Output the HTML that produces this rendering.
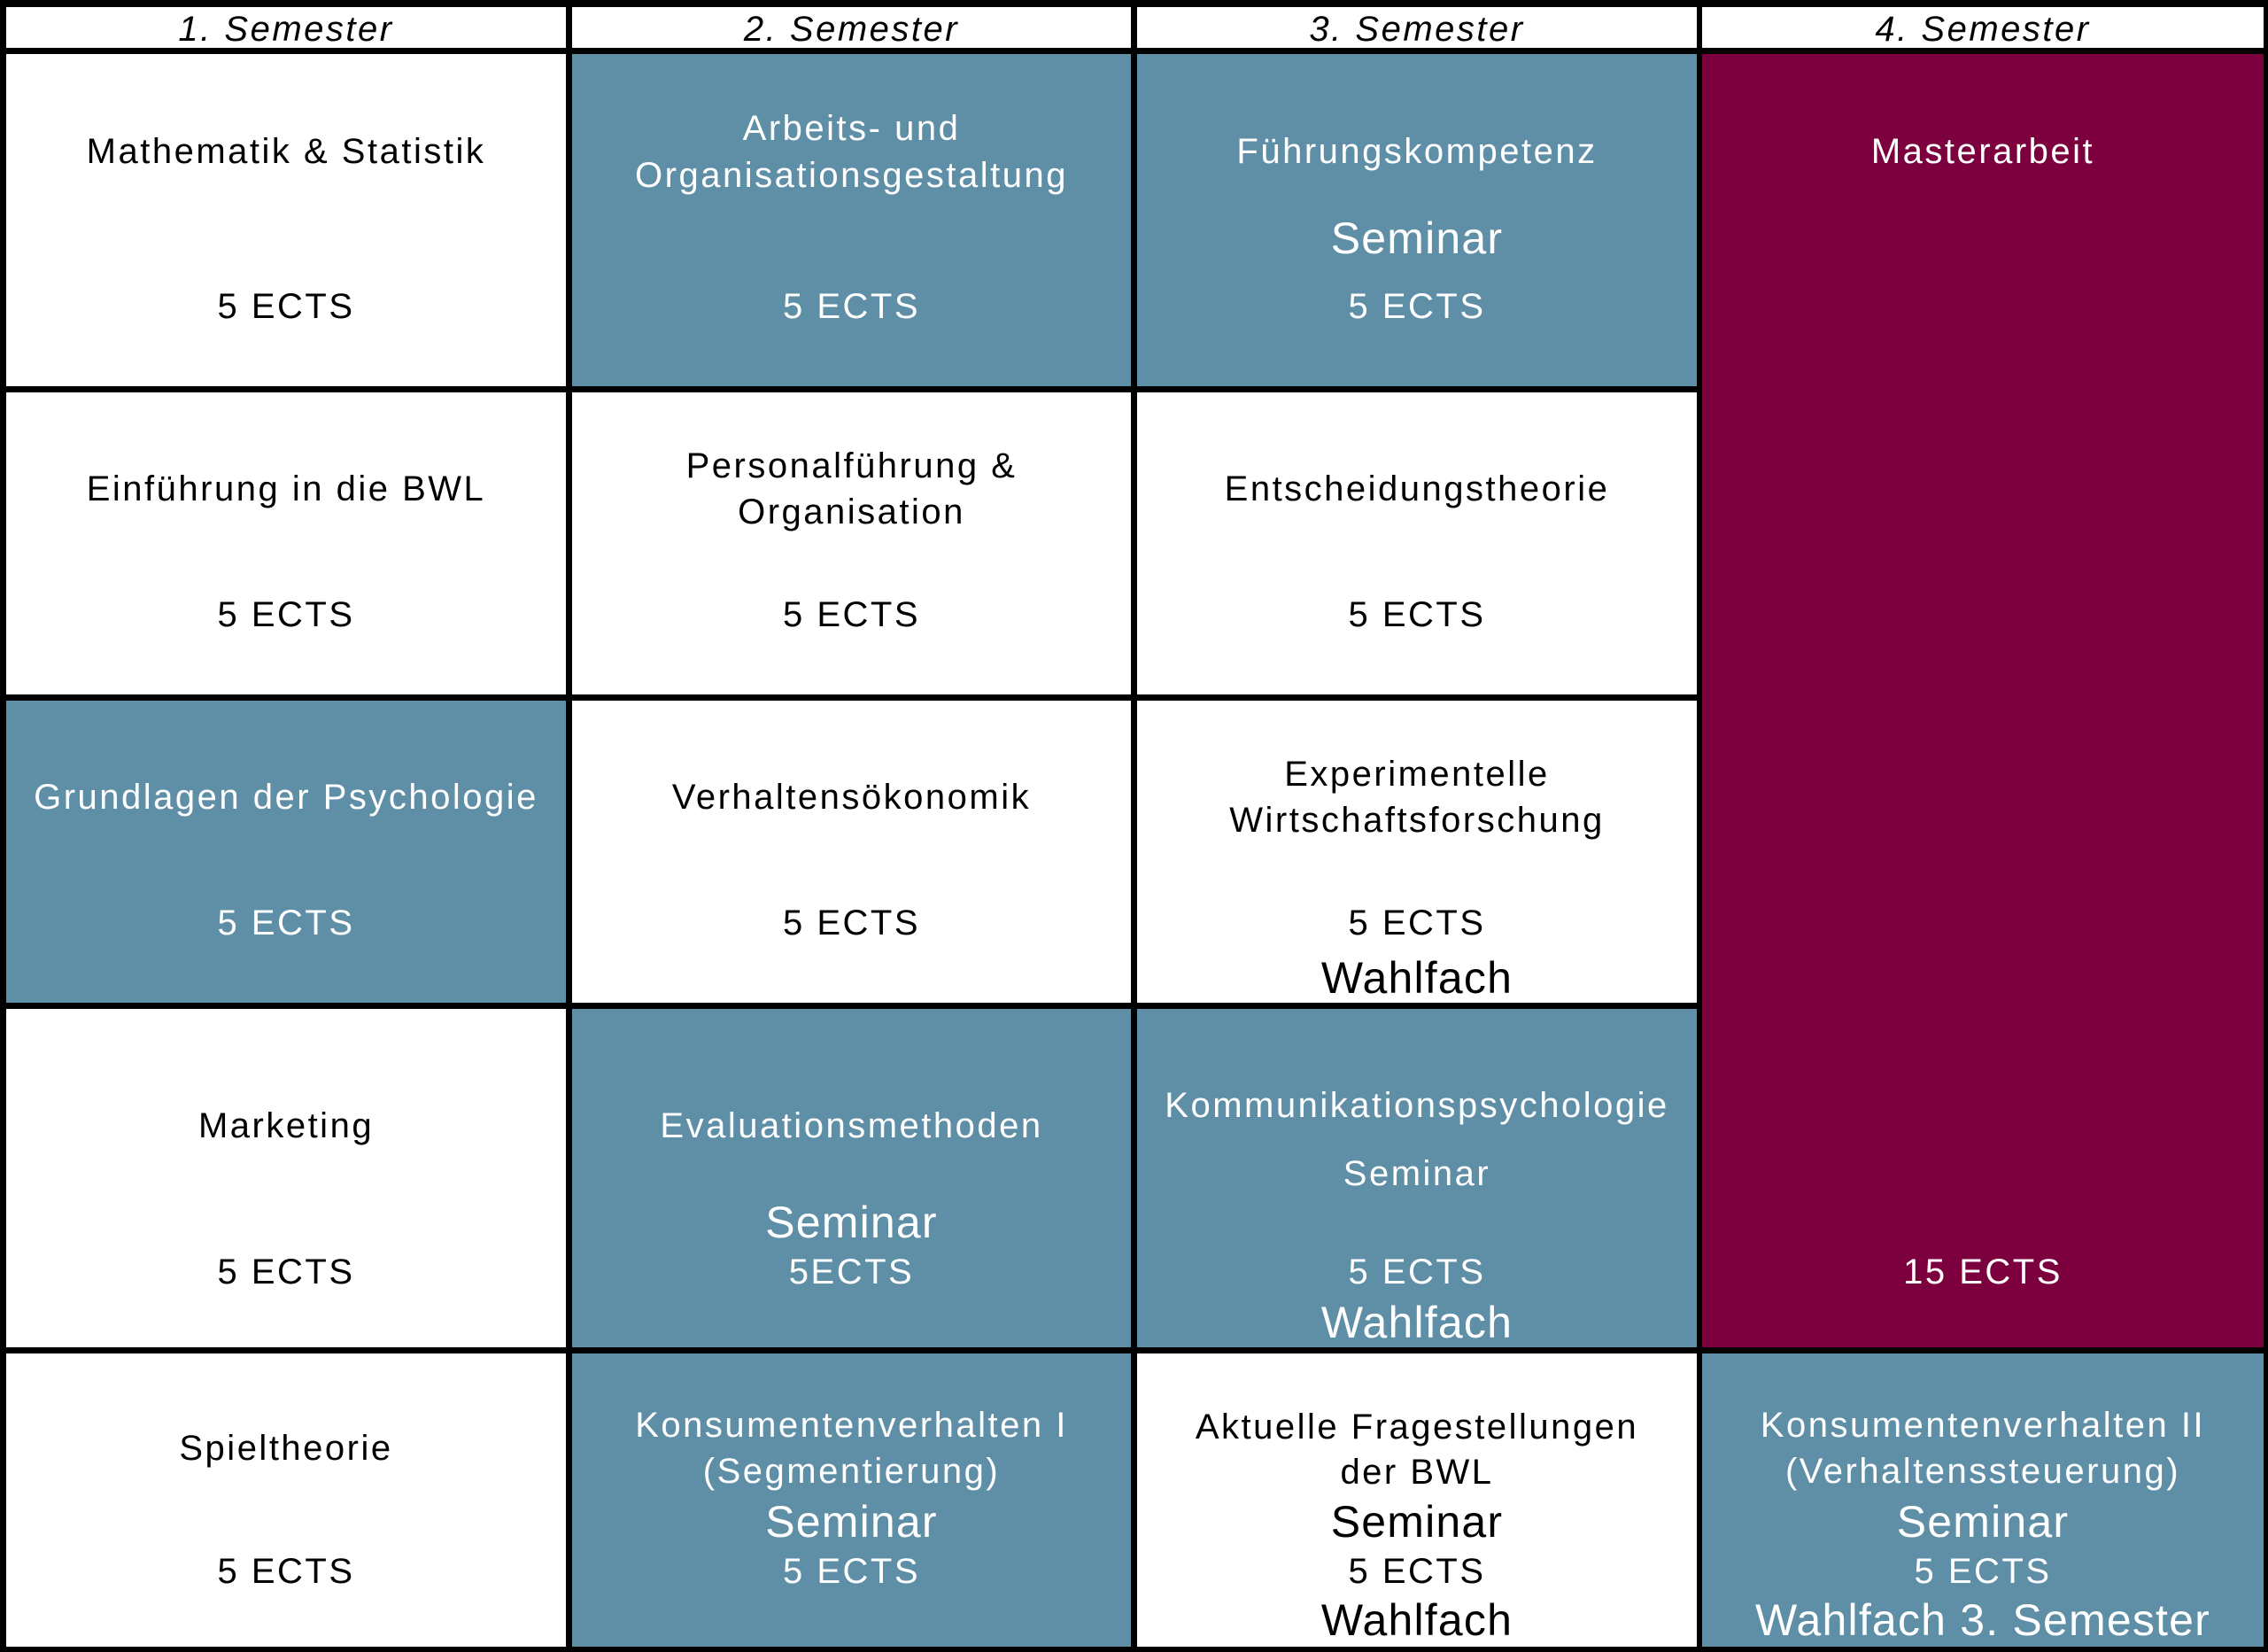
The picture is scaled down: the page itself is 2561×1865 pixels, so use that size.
<!DOCTYPE html>
<html><head><meta charset="utf-8"><style>
*{margin:0;padding:0;box-sizing:border-box}
body{width:2561px;height:1865px;background:#000;position:relative;overflow:hidden;font-family:"Liberation Sans",sans-serif}
.c{position:absolute}
.w{background:#fff}.b{background:#5f8fa7}.m{background:#7b003d}
.t{position:absolute;height:60px;line-height:60px;text-align:center;font-size:40px;white-space:nowrap;color:#000;letter-spacing:2.5px}
.l{color:#fff}
.g{font-size:50px;letter-spacing:1.2px}
.h{font-style:italic;font-size:40px;letter-spacing:2.5px}
</style></head><body>
<!-- header -->
<div class="c w" style="left:7px;top:8px;width:632px;height:46px"></div>
<div class="c w" style="left:646px;top:8px;width:631px;height:46px"></div>
<div class="c w" style="left:1284px;top:8px;width:632px;height:46px"></div>
<div class="c w" style="left:1922px;top:8px;width:634px;height:46px"></div>
<!-- col1 -->
<div class="c w" style="left:7px;top:61px;width:632px;height:375px"></div>
<div class="c w" style="left:7px;top:443px;width:632px;height:341px"></div>
<div class="c b" style="left:7px;top:791px;width:632px;height:341px"></div>
<div class="c w" style="left:7px;top:1139px;width:632px;height:382px"></div>
<div class="c w" style="left:7px;top:1528px;width:632px;height:331px"></div>
<!-- col2 -->
<div class="c b" style="left:646px;top:61px;width:631px;height:375px"></div>
<div class="c w" style="left:646px;top:443px;width:631px;height:341px"></div>
<div class="c w" style="left:646px;top:791px;width:631px;height:341px"></div>
<div class="c b" style="left:646px;top:1139px;width:631px;height:382px"></div>
<div class="c b" style="left:646px;top:1528px;width:631px;height:331px"></div>
<!-- col3 -->
<div class="c b" style="left:1284px;top:61px;width:632px;height:375px"></div>
<div class="c w" style="left:1284px;top:443px;width:632px;height:341px"></div>
<div class="c w" style="left:1284px;top:791px;width:632px;height:341px"></div>
<div class="c b" style="left:1284px;top:1139px;width:632px;height:382px"></div>
<div class="c w" style="left:1284px;top:1528px;width:632px;height:331px"></div>
<!-- col4 -->
<div class="c m" style="left:1922px;top:61px;width:634px;height:1460px"></div>
<div class="c b" style="left:1922px;top:1528px;width:634px;height:331px"></div>

<!-- headers -->
<div class="t h" style="left:7px;width:632px;top:3px">1. Semester</div>
<div class="t h" style="left:646px;width:631px;top:3px">2. Semester</div>
<div class="t h" style="left:1284px;width:632px;top:3px">3. Semester</div>
<div class="t h" style="left:1922px;width:634px;top:3px">4. Semester</div>

<!-- col1 text -->
<div class="t" style="left:7px;width:632px;top:141px">Mathematik &amp; Statistik</div>
<div class="t" style="left:7px;width:632px;top:316px">5 ECTS</div>
<div class="t" style="left:7px;width:632px;top:522px">Einführung in die BWL</div>
<div class="t" style="left:7px;width:632px;top:664px">5 ECTS</div>
<div class="t l" style="left:7px;width:632px;top:870px">Grundlagen der Psychologie</div>
<div class="t l" style="left:7px;width:632px;top:1012px">5 ECTS</div>
<div class="t" style="left:7px;width:632px;top:1241px">Marketing</div>
<div class="t" style="left:7px;width:632px;top:1406px">5 ECTS</div>
<div class="t" style="left:7px;width:632px;top:1605px">Spieltheorie</div>
<div class="t" style="left:7px;width:632px;top:1744px">5 ECTS</div>

<!-- col2 text -->
<div class="t l" style="left:646px;width:631px;top:115px">Arbeits- und</div>
<div class="t l" style="left:646px;width:631px;top:168px">Organisationsgestaltung</div>
<div class="t l" style="left:646px;width:631px;top:316px">5 ECTS</div>
<div class="t" style="left:646px;width:631px;top:496px">Personalführung &amp;</div>
<div class="t" style="left:646px;width:631px;top:548px">Organisation</div>
<div class="t" style="left:646px;width:631px;top:664px">5 ECTS</div>
<div class="t" style="left:646px;width:631px;top:870px">Verhaltensökonomik</div>
<div class="t" style="left:646px;width:631px;top:1012px">5 ECTS</div>
<div class="t l" style="left:646px;width:631px;top:1241px">Evaluationsmethoden</div>
<div class="t l g" style="left:646px;width:631px;top:1350px">Seminar</div>
<div class="t l" style="left:646px;width:631px;top:1406px">5ECTS</div>
<div class="t l" style="left:646px;width:631px;top:1579px">Konsumentenverhalten I</div>
<div class="t l" style="left:646px;width:631px;top:1631px">(Segmentierung)</div>
<div class="t l g" style="left:646px;width:631px;top:1688px">Seminar</div>
<div class="t l" style="left:646px;width:631px;top:1744px">5 ECTS</div>

<!-- col3 text -->
<div class="t l" style="left:1284px;width:632px;top:141px">Führungskompetenz</div>
<div class="t l g" style="left:1284px;width:632px;top:239px">Seminar</div>
<div class="t l" style="left:1284px;width:632px;top:316px">5 ECTS</div>
<div class="t" style="left:1284px;width:632px;top:522px">Entscheidungstheorie</div>
<div class="t" style="left:1284px;width:632px;top:664px">5 ECTS</div>
<div class="t" style="left:1284px;width:632px;top:844px">Experimentelle</div>
<div class="t" style="left:1284px;width:632px;top:896px">Wirtschaftsforschung</div>
<div class="t" style="left:1284px;width:632px;top:1012px">5 ECTS</div>
<div class="t g" style="left:1284px;width:632px;top:1074px">Wahlfach</div>
<div class="t l" style="left:1284px;width:632px;top:1218px">Kommunikationspsychologie</div>
<div class="t l" style="left:1284px;width:632px;top:1295px">Seminar</div>
<div class="t l" style="left:1284px;width:632px;top:1406px">5 ECTS</div>
<div class="t l g" style="left:1284px;width:632px;top:1463px">Wahlfach</div>
<div class="t" style="left:1284px;width:632px;top:1581px">Aktuelle Fragestellungen</div>
<div class="t" style="left:1284px;width:632px;top:1632px">der BWL</div>
<div class="t g" style="left:1284px;width:632px;top:1688px">Seminar</div>
<div class="t" style="left:1284px;width:632px;top:1744px">5 ECTS</div>
<div class="t g" style="left:1284px;width:632px;top:1799px">Wahlfach</div>

<!-- col4 text -->
<div class="t l" style="left:1922px;width:634px;top:141px">Masterarbeit</div>
<div class="t l" style="left:1922px;width:634px;top:1406px">15 ECTS</div>
<div class="t l" style="left:1922px;width:634px;top:1579px">Konsumentenverhalten II</div>
<div class="t l" style="left:1922px;width:634px;top:1631px">(Verhaltenssteuerung)</div>
<div class="t l g" style="left:1922px;width:634px;top:1688px">Seminar</div>
<div class="t l" style="left:1922px;width:634px;top:1744px">5 ECTS</div>
<div class="t l g" style="left:1922px;width:634px;top:1799px">Wahlfach 3. Semester</div>
</body></html>
